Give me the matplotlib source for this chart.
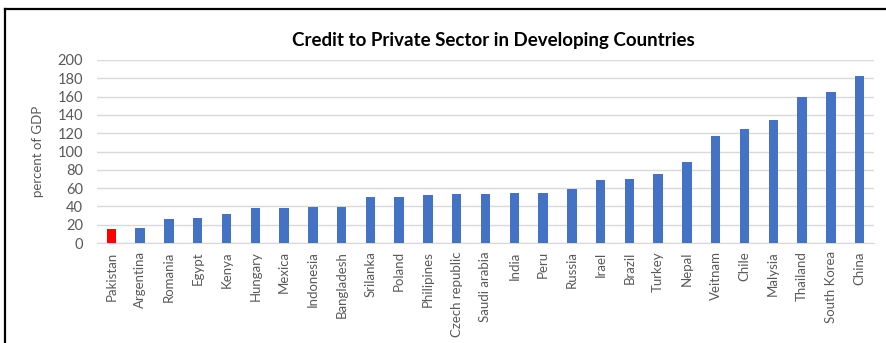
import matplotlib.pyplot as plt
from matplotlib.lines import Line2D

countries = ['Pakistan', 'Argentina', 'Romania', 'Egypt', 'Kenya', 'Hungary', 'Mexica',
             'Indonesia', 'Bangladesh', 'Srilanka', 'Poland', 'Philipines', 'Czech republic',
             'Saudi arabia', 'India', 'Peru', 'Russia', 'Irael', 'Brazil', 'Turkey', 'Nepal',
             'Veitnam', 'Chile', 'Malysia', 'Thailand', 'South Korea', 'China']
credit = [15, 16.4, 26, 27.3, 32, 38.3, 38.3, 39.3, 39.3, 50.3, 50.3, 52.5, 53.2,
          54, 55, 55, 59.3, 69, 70, 75.4, 88.5, 117, 125, 134, 160, 164.7, 182.5]
highlight = 'Pakistan'
yticks = list(range(0, 201, 20))

plt.rcParams['font.family'] = ['Lato', 'DejaVu Sans']

fig = plt.figure(figsize=(8.87, 3.43), dpi=100)
ax = fig.add_axes([0.1094, 0.2915, 0.8759, 0.5336])

colors = ['#ff0000' if c == highlight else '#4472c4' for c in countries]
ax.bar(range(len(countries)), credit, width=0.33, color=colors, zorder=3)

ax.set_xlim(-0.5, len(countries) - 0.5)
ax.set_ylim(0, 200)
ax.set_yticks(yticks)
ax.set_xticks(range(len(countries)))
ax.set_xticklabels(countries, rotation=90, fontsize=9.5, color='#595959')
ax.tick_params(axis='y', labelsize=10.5, colors='#595959', length=0, pad=10)
ax.tick_params(axis='x', length=0, pad=6)
ax.grid(axis='y', color='#d9d9d9', linewidth=1, zorder=0)
for s in ['top', 'right', 'left']:
    ax.spines[s].set_visible(False)
ax.spines['bottom'].set_color('#d9d9d9')

ax.set_ylabel('percent of GDP', fontsize=9.5, color='#595959', labelpad=10)
fig.text(0.556, 0.883, 'Credit to Private Sector in Developing Countries',
         ha='center', va='center', fontsize=13.5, fontweight='bold', color='#000000')

# outer frame: left and top edges
fig.add_artist(Line2D([0.0062, 0.0062], [0, 0.974], transform=fig.transFigure,
                      color='black', linewidth=1.6))
fig.add_artist(Line2D([0.0062, 1], [0.974, 0.974], transform=fig.transFigure,
                      color='black', linewidth=1.6))

fig.savefig('out.png', dpi=100)
